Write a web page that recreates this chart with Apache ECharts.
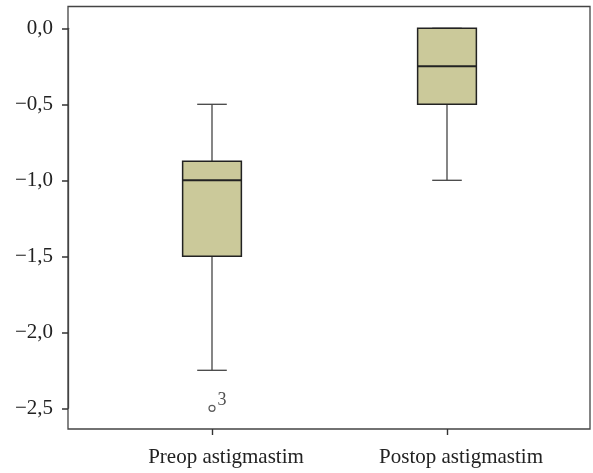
<!DOCTYPE html>
<html>
<head>
<meta charset="utf-8">
<script src="https://cdn.jsdelivr.net/npm/echarts@6/dist/echarts.min.js"></script>
<style>html,body{margin:0;padding:0;background:#fff;}#c{width:593px;height:473px;}</style>
</head>
<body>
<div id="c"></div>
<script>
const categories = ['Preop astigmastim', 'Postop astigmastim'];
const minVals = [-2.25, -1.0];
const q1Vals = [-1.5, -0.5];
const medianVals = [-1.0, -0.25];
const q3Vals = [-0.875, 0.0];
const maxVals = [-0.5, 0.0];
const outlierCats = [0];
const outlierVals = [-2.5];
const outlierLabels = ['3'];
const yMin = -2.5, yMax = 0, yStep = 0.5;

const FONT = 'Liberation Serif';
const boxData = categories.map((c, i) => [i, minVals[i], q1Vals[i], medianVals[i], q3Vals[i], maxVals[i]]);
const outlierData = outlierCats.map((c, i) => ({ value: [c, outlierVals[i]], name: outlierLabels[i] }));

function fmt(v) {
  const s = Math.abs(v).toFixed(1).replace('.', ',');
  return v < 0 ? '\u2212' + s : s;
}

const chart = echarts.init(document.getElementById('c'), null, { renderer: 'canvas' });
chart.setOption({
  animation: false,
  backgroundColor: '#fff',
  grid: [
    { left: 94.5, right: 28.5, top: 28.3, bottom: 64.7 },
    { left: 68, right: 3, top: 6.5, bottom: 44, show: true, borderColor: '#444', borderWidth: 1.3, backgroundColor: 'transparent' }
  ],
  xAxis: [
    {
      gridIndex: 0, type: 'category', data: categories, offset: 20.7,
      axisLine: { show: false, onZero: false },
      axisTick: { show: true, alignWithLabel: true, length: 6, lineStyle: { color: '#333', width: 1.4 } },
      axisLabel: { margin: 18, padding: [0, 0, 0, 28], color: '#222', fontFamily: FONT, fontSize: 21 },
      splitLine: { show: false }
    },
    { gridIndex: 1, type: 'value', show: false }
  ],
  yAxis: [
    {
      gridIndex: 0, type: 'value', min: yMin, max: yMax, interval: yStep, offset: 26.5,
      axisLine: { show: true, onZero: false, lineStyle: { color: '#444', width: 1.3 } },
      axisTick: { show: true, length: 6, lineStyle: { color: '#333', width: 1.5 } },
      axisLabel: { margin: 15, color: '#222', fontFamily: FONT, fontSize: 21, formatter: fmt },
      splitLine: { show: false }
    },
    { gridIndex: 1, type: 'value', show: false }
  ],
  series: [
    {
      type: 'custom',
      xAxisIndex: 0, yAxisIndex: 0,
      clip: false,
      data: boxData,
      encode: { x: 0, y: [1, 2, 3, 4, 5] },
      renderItem: function (params, api) {
        const i = api.value(0);
        const bw = api.size([1, 0])[0];
        const boxW = bw * 0.25, capW = bw * 0.126;
        const pMin = api.coord([i, api.value(1)]);
        const pQ1 = api.coord([i, api.value(2)]);
        const pMed = api.coord([i, api.value(3)]);
        const pQ3 = api.coord([i, api.value(4)]);
        const pMax = api.coord([i, api.value(5)]);
        const x = pMin[0];
        const wl = { stroke: '#444', lineWidth: 1.3 };
        return {
          type: 'group',
          children: [
            { type: 'line', shape: { x1: x, y1: pQ3[1], x2: x, y2: pMax[1] }, style: wl },
            { type: 'line', shape: { x1: x, y1: pQ1[1], x2: x, y2: pMin[1] }, style: wl },
            { type: 'line', shape: { x1: x - capW / 2, y1: pMax[1], x2: x + capW / 2, y2: pMax[1] }, style: wl },
            { type: 'line', shape: { x1: x - capW / 2, y1: pMin[1], x2: x + capW / 2, y2: pMin[1] }, style: wl },
            { type: 'rect', shape: { x: x - boxW / 2, y: pQ3[1], width: boxW, height: pQ1[1] - pQ3[1] }, style: { fill: '#cbc99a', stroke: '#222', lineWidth: 1.5 } },
            { type: 'line', shape: { x1: x - boxW / 2, y1: pMed[1], x2: x + boxW / 2, y2: pMed[1] }, style: { stroke: '#222', lineWidth: 2 } }
          ]
        };
      }
    },
    {
      type: 'scatter',
      xAxisIndex: 0, yAxisIndex: 0,
      clip: false,
      data: outlierData,
      symbol: 'circle', symbolSize: 6,
      itemStyle: { color: '#fff', borderColor: '#333', borderWidth: 1.2 },
      label: { show: true, position: 'right', distance: 2, offset: [0, -8], formatter: '{b}', color: '#222', fontFamily: FONT, fontSize: 18 }
    }
  ]
});
</script>
</body>
</html>
